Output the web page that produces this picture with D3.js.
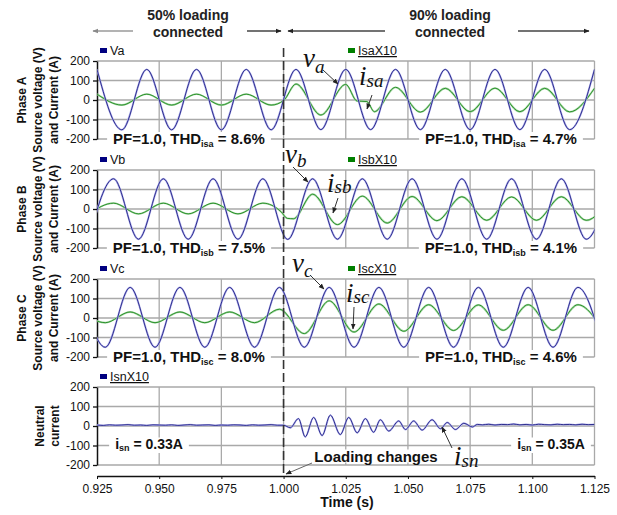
<!DOCTYPE html>
<html>
<head>
<meta charset="utf-8">
<script src="https://cdn.jsdelivr.net/npm/d3@7"></script>
<style>
  body { margin: 0; background: #fff; }
  svg { display: block; font-family: Arial, "Liberation Sans", sans-serif; }
</style>
</head>
<body>
<svg id="chart" width="617" height="515"></svg>
<script>
// formas de onda de tension y corriente por fase, antes y despues del cambio de carga.
// los valores son extremos (picos/valles), la curva monotona los une

const xTicks = [0.925, 0.950, 0.975, 1.000, 1.025, 1.050, 1.075, 1.100, 1.125];
const xTickLabels = ["0.925", "0.950", "0.975", "1.000", "1.025", "1.050", "1.075", "1.100", "1.125"];
const yTicks = [200, 100, 0, -100, -200];

// fase A
const tA = [0.925, 0.935, 0.945, 0.955, 0.965, 0.975, 0.985, 0.995, 1.005, 1.015, 1.025,
  1.035, 1.045, 1.055, 1.065, 1.075, 1.085, 1.095, 1.105, 1.115, 1.125];
const va = [157, -153, 157, -153, 157, -153, 157, -153, 157, -152, 157,
  -152, 157, -152, 157, -152, 157, -152, 157, -152, 157];
const tIsa = [0.925, 0.935, 0.945, 0.955, 0.965, 0.975, 0.985, 0.995, 1.000, 1.005, 1.015, 1.025,
  1.0295, 1.0335, 1.0365, 1.045, 1.055, 1.065, 1.075, 1.085, 1.095, 1.105, 1.115, 1.125];
const isa = [30, -26, 30, -26, 30, -26, 30, -26, -3, 82, -77, 80,
  -5, -8, -60, 65, -62, 60, -60, 61, -60, 60, -61, 60];

// fase B
const tB = [0.92167, 0.93167, 0.94167, 0.95167, 0.96167, 0.97167, 0.98167, 0.99167, 1.00167, 1.01167, 1.02167,
  1.03167, 1.04167, 1.05167, 1.06167, 1.07167, 1.08167, 1.09167, 1.10167, 1.11167, 1.12167, 1.13167];
const vb = [-155, 155, -155, 155, -155, 155, -155, 155, -156, 155, -155,
  155, -155, 155, -155, 155, -155, 155, -155, 155, -155, 155];
const tIsb = [0.92167, 0.93167, 0.94167, 0.95167, 0.96167, 0.97167, 0.98167, 0.99167, 0.999, 1.0015, 1.004,
  1.01167, 1.02167, 1.03167, 1.04167, 1.05167, 1.06167, 1.07167, 1.08167, 1.09167, 1.10167, 1.11167, 1.12167, 1.13167];
const isb = [-25, 30, -25, 30, -25, 30, -25, 30, -14, -48, -50,
  76, -80, 66, -72, 64, -60, 63, -58, 62, -58, 63, -58, 62];

// fase C (la corriente comparte los tiempos de la tension)
const tC = [0.91833, 0.92833, 0.93833, 0.94833, 0.95833, 0.96833, 0.97833, 0.98833, 0.99833, 1.00833, 1.01833,
  1.02833, 1.03833, 1.04833, 1.05833, 1.06833, 1.07833, 1.08833, 1.09833, 1.10833, 1.11833, 1.12833];
const vc = [157, -150, 157, -150, 157, -150, 157, -150, 157, -150, 157,
  -150, 157, -150, 157, -150, 157, -150, 157, -150, 157, -150];
const isc = [31, -24, 31, -24, 31, -24, 31, -24, 45, -80, 88,
  -72, 72, -68, 68, -64, 67, -63, 68, -63, 68, -63];

// corriente de neutro x10
const tN = [0.925, 0.9275, 0.930, 0.9325, 0.935, 0.9375, 0.940, 0.9425, 0.945, 0.9475,
  0.950, 0.9525, 0.955, 0.9575, 0.960, 0.9625, 0.965, 0.9675, 0.970, 0.9725,
  0.975, 0.9775, 0.980, 0.9825, 0.985, 0.9875, 0.990, 0.9925, 0.995, 0.9975, 1.000,
  1.0027, 1.0060, 1.0087, 1.0121, 1.0155, 1.0188, 1.0228, 1.0262, 1.0296, 1.0329,
  1.0362, 1.0389, 1.0423, 1.0463, 1.0490, 1.0523, 1.0557, 1.0597, 1.0631, 1.0658,
  1.0691, 1.0725, 1.0759, 1.0779,
  1.080, 1.0825, 1.085, 1.0875, 1.090, 1.0925, 1.095, 1.0975, 1.100, 1.1025,
  1.105, 1.1075, 1.110, 1.1125, 1.115, 1.1175, 1.120, 1.1225, 1.125];
const isn = [5, 3, 6, 4, 5, 7, 4, 5, 3, 6,
  5, 4, 6, 3, 5, 7, 4, 5, 6, 3,
  5, 4, 6, 5, 3, 6, 4, 5, 7, 4, 4,
  -9, 38, -56, 44, -49, 56, -44, 44, -35, 38,
  -32, 32, -26, 26, -18, 26, -21, 32, -14, 18,
  -18, 14, -5, 8,
  6, 9, 5, 8, 7, 10, 6, 8, 5, 9,
  7, 6, 9, 7, 8, 6, 9, 7, 8];

const faseNombres = ["Phase A", "Phase B", "Phase C"];
const vNombres = ["Va", "Vb", "Vc"];
const iNombres = ["IsaX10", "IsbX10", "IscX10"];
const thdSub = ["isa", "isb", "isc"];
const thdAntes = ["8.6%", "7.5%", "8.0%"];
const thdDespues = ["4.7%", "4.1%", "4.6%"];
const isnAntes = "0.33A";
const isnDespues = "0.35A";

const AZUL = "#16167e", AZUL_HALO = "#b4b4ec";
const VERDE = "#178417", VERDE_HALO = "#a6d8a6";
const GRIS = "#a9a9a9";

const X0 = 97, X1 = 594.5;
const topes = [61, 170, 279, 387];
const ALTO = 78;
const EJE_X = 476;

const svg = d3.select("#chart");
const x = d3.scaleLinear().domain([0.925, 1.125]).range([X0, X1]);

const defs = svg.append("defs");
defs.append("clipPath").attr("id", "recorte")
  .append("rect").attr("x", X0).attr("y", 0).attr("width", X1 - X0).attr("height", 515);
function flecha(id, color) {
  defs.append("marker").attr("id", id)
    .attr("viewBox", "0 0 10 10").attr("refX", 9).attr("refY", 5)
    .attr("markerWidth", 6).attr("markerHeight", 6).attr("orient", "auto")
    .attr("markerUnits", "userSpaceOnUse")
    .append("path").attr("d", "M0,1 L10,5 L0,9 z").attr("fill", color);
}
flecha("fl", "#222");
flecha("flg", "#8a8a8a");

function linea(x1, y1, x2, y2, color, marker, ancho) {
  svg.append("line").attr("x1", x1).attr("y1", y1).attr("x2", x2).attr("y2", y2)
    .attr("stroke", color).attr("stroke-width", ancho || 1.2)
    .attr("marker-end", "url(#" + marker + ")");
}

function onda(g, y, ts, vs, color, halo) {
  const gen = d3.line().x(d => x(d[0])).y(d => y(d[1])).curve(d3.curveMonotoneX);
  const datos = d3.zip(ts, vs);
  g.append("path").attr("d", gen(datos)).attr("fill", "none")
    .attr("stroke", halo).attr("stroke-width", 1.9).attr("clip-path", "url(#recorte)");
  g.append("path").attr("d", gen(datos)).attr("fill", "none")
    .attr("stroke", color).attr("stroke-width", 0.85).attr("clip-path", "url(#recorte)");
}

// texto en negrita con subindice y fondo blanco que tapa la grilla
function etiqueta(cx, base, antes, sub, despues, tam) {
  const g = svg.append("g");
  const t = g.append("text").attr("x", cx).attr("y", base)
    .attr("text-anchor", "middle").attr("font-weight", "bold")
    .attr("font-size", tam).attr("fill", "#111");
  t.append("tspan").text(antes);
  t.append("tspan").attr("font-size", Math.round(tam * 0.62)).attr("dy", 2.5).text(sub);
  t.append("tspan").attr("dy", -2.5).text(despues);
  const b = t.node().getBBox();
  g.insert("rect", "text").attr("x", b.x - 6).attr("y", b.y + 2)
    .attr("width", b.width + 12).attr("height", b.height - 2).attr("fill", "#fff");
}

function italica(px, base, letra, sub, dy, tam) {
  const t = svg.append("text").attr("x", px).attr("y", base)
    .attr("font-family", "'Liberation Serif', 'Times New Roman', serif")
    .attr("font-style", "italic").attr("font-size", tam || 27).attr("fill", "#111");
  t.append("tspan").text(letra);
  t.append("tspan").attr("font-size", Math.round((tam || 27) * 0.72)).attr("dy", dy).text(sub);
}

function leyenda(px, base, nombre, color, subrayado) {
  svg.append("rect").attr("x", px).attr("y", base - 7).attr("width", 7).attr("height", 5).attr("fill", color);
  svg.append("text").attr("x", px + 10).attr("y", base).attr("font-size", 12.5).attr("fill", "#111")
    .attr("text-decoration", subrayado ? "underline" : null).text(nombre);
}

const paneles = [
  { v: [tA, va], i: [tIsa, isa] },
  { v: [tB, vb], i: [tIsb, isb] },
  { v: [tC, vc], i: [tC, isc] },
  { n: [tN, isn] }
];

paneles.forEach(function (p, k) {
  const top = topes[k];
  const y = d3.scaleLinear().domain([-200, 200]).range([top + ALTO, top]);
  const g = svg.append("g");

  g.selectAll(".gh").data(yTicks).join("line")
    .attr("x1", X0).attr("x2", X1).attr("y1", d => y(d)).attr("y2", d => y(d))
    .attr("stroke", GRIS).attr("stroke-width", 1.3);
  g.selectAll(".gv").data(xTicks.slice(1)).join("line")
    .attr("x1", d => x(d)).attr("x2", d => x(d)).attr("y1", top).attr("y2", top + ALTO)
    .attr("stroke", GRIS).attr("stroke-width", 1.3);

  const eje = g.append("g").attr("transform", "translate(" + X0 + ",0)")
    .call(d3.axisLeft(y).tickValues(yTicks).tickSize(4).tickSizeOuter(0).tickPadding(3)
      .tickFormat(d => String(d)));
  eje.select(".domain").attr("stroke", "#111").attr("stroke-width", 1.5);
  eje.selectAll(".tick line").attr("stroke", "#111").attr("stroke-width", 1.3);
  eje.selectAll(".tick text").attr("font-size", 12).attr("fill", "#111")
    .attr("font-family", "Arial, 'Liberation Sans', sans-serif");

  p.g = g;
  p.y = y;
});

// linea vertical punteada del cambio de carga
svg.append("line").attr("x1", x(1.0)).attr("x2", x(1.0)).attr("y1", 48).attr("y2", EJE_X)
  .attr("stroke", "#333").attr("stroke-width", 1.6).attr("stroke-dasharray", "9,4");

paneles.forEach(function (p, k) {
  if (p.n) {
    onda(p.g, p.y, p.n[0], p.n[1], AZUL, AZUL_HALO);
    return;
  }
  onda(p.g, p.y, p.i[0], p.i[1], VERDE, VERDE_HALO);
  onda(p.g, p.y, p.v[0], p.v[1], AZUL, AZUL_HALO);
});

// eje de tiempo
const ejeX = svg.append("g").attr("transform", "translate(0," + EJE_X + ")")
  .call(d3.axisBottom(x).tickValues(xTicks).tickSize(3).tickSizeOuter(0).tickPadding(5)
    .tickFormat((d, i) => xTickLabels[i]));
ejeX.select(".domain").attr("stroke", "#111").attr("stroke-width", 1.5);
ejeX.selectAll(".tick line").attr("stroke", "#111");
ejeX.selectAll(".tick text").attr("font-size", 12).attr("fill", "#111")
  .attr("font-family", "Arial, 'Liberation Sans', sans-serif");
svg.append("text").attr("x", 347).attr("y", 507).attr("text-anchor", "middle")
  .attr("font-weight", "bold").attr("font-size", 14).attr("fill", "#111").text("Time (s)");

// titulos de los ejes y, rotados
function titulo(cx, cy, texto) {
  svg.append("text").attr("transform", "translate(" + cx + "," + cy + ") rotate(-90)")
    .attr("text-anchor", "middle").attr("dy", "0.36em")
    .attr("font-weight", "bold").attr("font-size", 12).attr("fill", "#111").text(texto);
}
faseNombres.forEach(function (f, k) {
  const cy = topes[k] + ALTO / 2;
  titulo(22, cy, f);
  titulo(38, cy, "Source voltage (V)");
  titulo(54, cy, "and Current (A)");
});
titulo(40, topes[3] + ALTO / 2, "Neutral");
titulo(55, topes[3] + ALTO / 2, "current");

// leyendas
vNombres.forEach(function (n, k) {
  leyenda(100, topes[k] - 6, n, "#000080", false);
  leyenda(348, topes[k] - 6, iNombres[k], "#008000", true);
});
leyenda(100, topes[3] - 6, "IsnX10", "#000080", true);

// PF y THD
faseNombres.forEach(function (f, k) {
  const base = topes[k] + ALTO + 5;
  etiqueta(189, base, "PF=1.0, THD", thdSub[k], " = " + thdAntes[k], 15);
  etiqueta(501, base, "PF=1.0, THD", thdSub[k], " = " + thdDespues[k], 15);
});
etiqueta(149, 448.5, "i", "sn", " = " + isnAntes, 14);
etiqueta(551, 448.5, "i", "sn", " = " + isnDespues, 14);

// texto "Loading changes" con fondo blanco
(function () {
  const g = svg.append("g");
  const t = g.append("text").attr("x", 376).attr("y", 461.5).attr("text-anchor", "middle")
    .attr("font-weight", "bold").attr("font-size", 15).attr("fill", "#111").text("Loading changes");
  const b = t.node().getBBox();
  g.insert("rect", "text").attr("x", b.x - 3).attr("y", b.y + 2)
    .attr("width", b.width + 6).attr("height", b.height - 4).attr("fill", "#fff");
})();
linea(312, 463, 286, 474, "#666", "fl", 1);

// encabezado
function encabezado(cx, l1, l2) {
  svg.append("text").attr("x", cx).attr("y", 20).attr("text-anchor", "middle")
    .attr("font-weight", "bold").attr("font-size", 14).attr("fill", "#222").text(l1);
  svg.append("text").attr("x", cx).attr("y", 37).attr("text-anchor", "middle")
    .attr("font-weight", "bold").attr("font-size", 14).attr("fill", "#222").text(l2);
}
encabezado(188, "50% loading", "connected");
encabezado(450, "90% loading", "connected");
linea(133, 31, 93, 31, "#9a9a9a", "flg", 1.4);
linea(247, 31, 281, 31, "#444", "fl", 1.4);
linea(385, 31, 288, 31, "#444", "fl", 1.4);
linea(518, 31, 589, 31, "#444", "fl", 1.4);

// rotulos de las ondas
italica(303, 67, "v", "a", 6);
linea(323, 70, 338, 84, "#333", "fl", 1);
italica(359, 85, "i", "sa", 2);
linea(372, 95, 367, 109, "#333", "fl", 1);
italica(285, 163, "v", "b", 4);
linea(293, 167, 308, 182, "#333", "fl", 1);
italica(327, 192, "i", "sb", 1);
linea(338, 198, 333, 213, "#333", "fl", 1);
italica(292, 272, "v", "c", 5);
linea(310, 275, 324, 289, "#333", "fl", 1);
italica(346, 302, "i", "sc", 1);
linea(354, 307, 353, 329, "#333", "fl", 1);
italica(454, 465, "i", "sn", 2);
linea(452, 448, 442, 427, "#333", "fl", 1);
</script>
</body>
</html>
